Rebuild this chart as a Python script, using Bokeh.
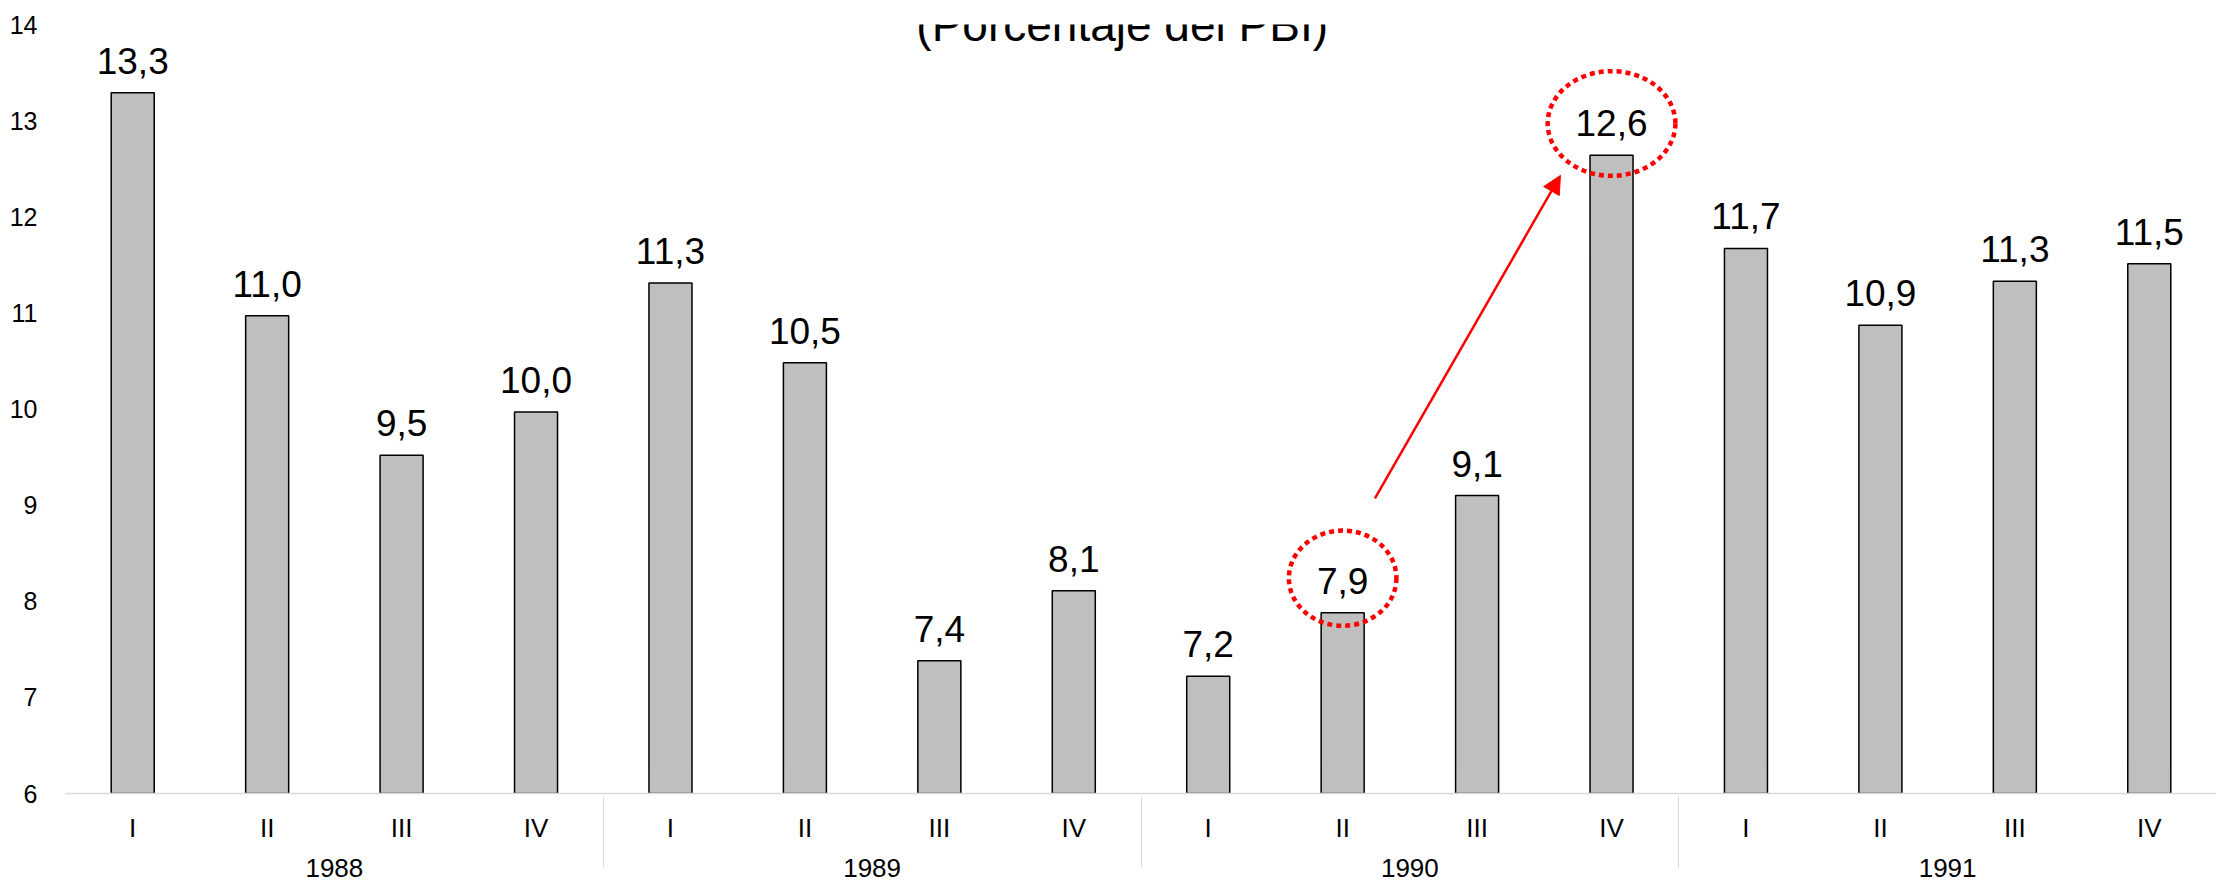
from bokeh.plotting import figure
from bokeh.models import (FactorRange, Range1d, FixedTicker, Arrow, NormalHead,
                          Label, ColumnDataSource)
from bokeh.core.properties import value
from bokeh.embed import file_html
from bokeh.resources import INLINE

# ---- data ----
years = ["1988", "1989", "1990", "1991"]
quarters = ["I", "II", "III", "IV"]
values = [13.29, 10.97, 9.52, 9.97,
          11.31, 10.48, 7.38, 8.11,
          7.22, 7.88, 9.10, 12.64,
          11.67, 10.87, 11.33, 11.51]
value_labels = ["13,3", "11,0", "9,5", "10,0",
                "11,3", "10,5", "7,4", "8,1",
                "7,2", "7,9", "9,1", "12,6",
                "11,7", "10,9", "11,3", "11,5"]
y_ticks = [6, 7, 8, 9, 10, 11, 12, 13, 14]
title_text = "(Porcentaje del PBI)"
highlight = [9, 11]          # 1990-II and 1990-IV

FONT = "Liberation Sans"
GRID_GREY = "#d9d9d9"

factors = [(y, q) for y in years for q in quarters]
src = ColumnDataSource(dict(x=factors, top=values, label=value_labels))

p = figure(
    x_range=FactorRange(*factors, group_padding=0, subgroup_padding=0,
                        factor_padding=0, range_padding=0),
    y_range=Range1d(y_ticks[0], y_ticks[-1]),
    width=2216, height=886,
    output_backend="svg", toolbar_location=None,
    min_border_left=65, min_border_right=0,
    min_border_top=24, min_border_bottom=93,
)
p.outline_line_color = None
p.xgrid.grid_line_color = None
p.ygrid.grid_line_color = None
p.background_fill_color = "white"
p.border_fill_color = "white"

# bars
p.vbar(x="x", top="top", bottom=y_ticks[0], width=0.32, source=src,
       fill_color="#bfbfbf", line_color="black", line_width=1.5)

# value labels
p.text(x="x", y="top", text="label", source=src,
       text_font=value(FONT), text_font_size=value("37px"),
       text_align="center", text_baseline="alphabetic", y_offset=-32,
       text_color="black")

# highlight ellipses around labels
hl_src = ColumnDataSource(dict(
    x=[factors[i] for i in highlight],
    y=[values[highlight[0]] + 0.36, values[highlight[1]] + 0.33],
    w=[0.80, 0.95],
    h=[0.99, 1.09],
))
p.ellipse(x="x", y="y", width="w", height="h", source=hl_src,
          fill_color=None, line_color="#ff0000", line_width=4.5,
          line_dash="5 4")

# arrow from first highlight to second
i0, i1 = highlight
p.add_layout(Arrow(
    end=NormalHead(size=18, fill_color="#ff0000", line_color="#ff0000"),
    x_start=i0 + 0.5 + 0.24, y_start=values[i0] + 1.19,
    x_end=i1 + 0.5 - 0.38, y_end=values[i1] - 0.21,
    line_color="#ff0000", line_width=2.5))

# title (partially cut off at top, as in reference)
p.add_layout(Label(x=7.86, y=13.99, text=title_text, text_font=FONT,
                   text_font_size="46px", text_align="center",
                   text_baseline="alphabetic", text_color="black"))

# y axis
ya = p.yaxis[0]
ya.ticker = FixedTicker(ticks=y_ticks)
ya.axis_line_color = None
ya.major_tick_line_color = None
ya.minor_tick_line_color = None
ya.major_label_standoff = 22
ya.major_label_text_font = FONT
ya.major_label_text_font_size = "25px"
ya.major_label_text_color = "black"

# x axis
xa = p.xaxis[0]
xa.axis_line_color = GRID_GREY
xa.axis_line_width = 1.5
xa.major_tick_line_color = None
xa.minor_tick_line_color = None
xa.major_label_standoff = 13
xa.major_label_text_font = FONT
xa.major_label_text_font_size = "26px"
xa.major_label_text_color = "black"
xa.group_text_font = FONT
xa.group_text_font_size = "26px"
xa.group_text_font_style = "normal"
xa.group_text_color = "black"
xa.separator_line_color = GRID_GREY
xa.separator_line_width = 1

open("out.html", "w").write(file_html(p, INLINE))
